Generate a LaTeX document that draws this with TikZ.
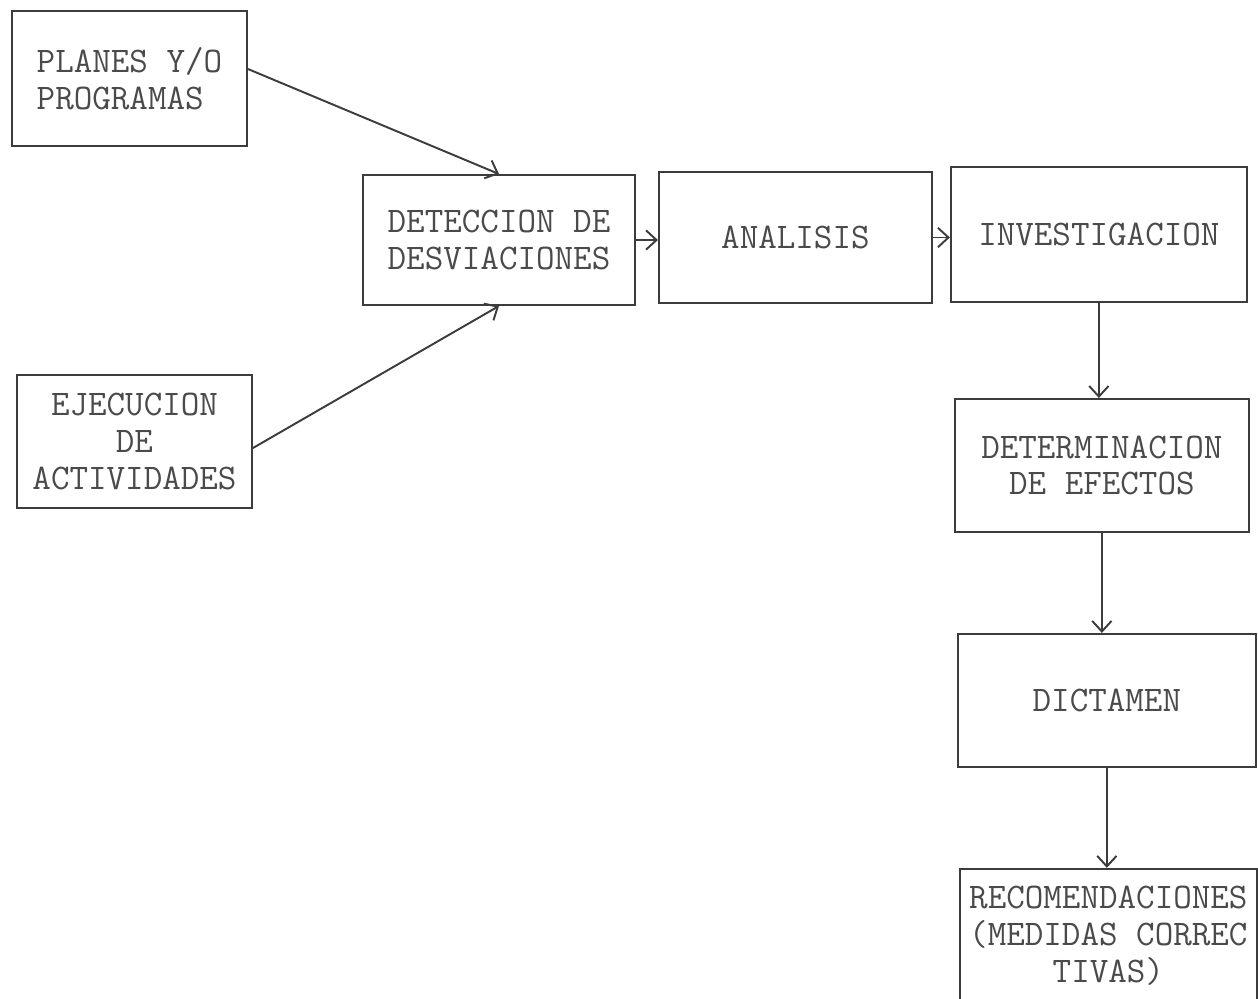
\documentclass[tikz,border=0pt]{standalone}
\usepackage{fontspec}
\usetikzlibrary{positioning,arrows.meta}
\definecolor{inkline}{HTML}{3C3C3C}
\definecolor{inktext}{HTML}{4A4A4A}

\begin{document}
\begin{tikzpicture}[node distance=2cm,
    box/.style={draw=inkline, rectangle, line width=1.1pt, inner sep=1pt, text=inktext,
        font=\ttfamily\fontsize{20.5}{21}\selectfont, align=center},
    flow/.style={draw=inkline, line width=1.1pt, -{Straight Barb[length=6pt,width=11pt]}}]
    \useasboundingbox (0,0) rectangle (25.16,-19.96);
    % inputs on the left
    \node[box, minimum width=4.7cm, minimum height=2.7cm, align=left] (planes) at (2.59,-1.57) {PLANES Y/O\\PROGRAMAS};
    \node[box, minimum width=4.7cm, minimum height=2.66cm] (ejec) at (2.69,-8.83) {EJECUCION\\DE\\ACTIVIDADES};
    % main row
    \node[box, minimum width=5.44cm, minimum height=2.6cm] (detec) at (9.98,-4.8) {DETECCION DE\\DESVIACIONES};
    \node[box, minimum width=5.46cm, minimum height=2.62cm, right=0.44cm of detec, yshift=0.05cm] (analisis) {ANALISIS};
    \node[box, minimum width=5.92cm, minimum height=2.7cm, right=0.34cm of analisis, yshift=0.06cm] (invest) {INVESTIGACION};
    % column on the right
    \node[box, minimum width=5.88cm, minimum height=2.66cm, below=1.9cm of invest, xshift=0.06cm] (determ) {DETERMINACION\\DE EFECTOS};
    \node[box, minimum width=5.96cm, minimum height=2.66cm, below=2cm of determ, xshift=0.1cm] (dictamen) {DICTAMEN};
    \node[box, minimum width=5.94cm, minimum height=2.68cm, below=2cm of dictamen, xshift=0.03cm] (recom) {RECOMENDACIONES\\(MEDIDAS CORREC\\TIVAS)};

    \draw[flow] ([yshift=0.19cm]planes.east) -- (detec.north);
    \draw[flow] ([yshift=-0.13cm]ejec.east) -- (detec.south);
    \draw[flow] (detec.east) -- (detec.east -| analisis.west);
    \draw[flow] (analisis.east) -- (analisis.east -| invest.west);
    \draw[flow] (invest.south) -- (invest.south |- determ.north);
    \draw[flow] (determ.south) -- (determ.south |- dictamen.north);
    \draw[flow] (dictamen.south) -- (dictamen.south |- recom.north);
\end{tikzpicture}
\end{document}
